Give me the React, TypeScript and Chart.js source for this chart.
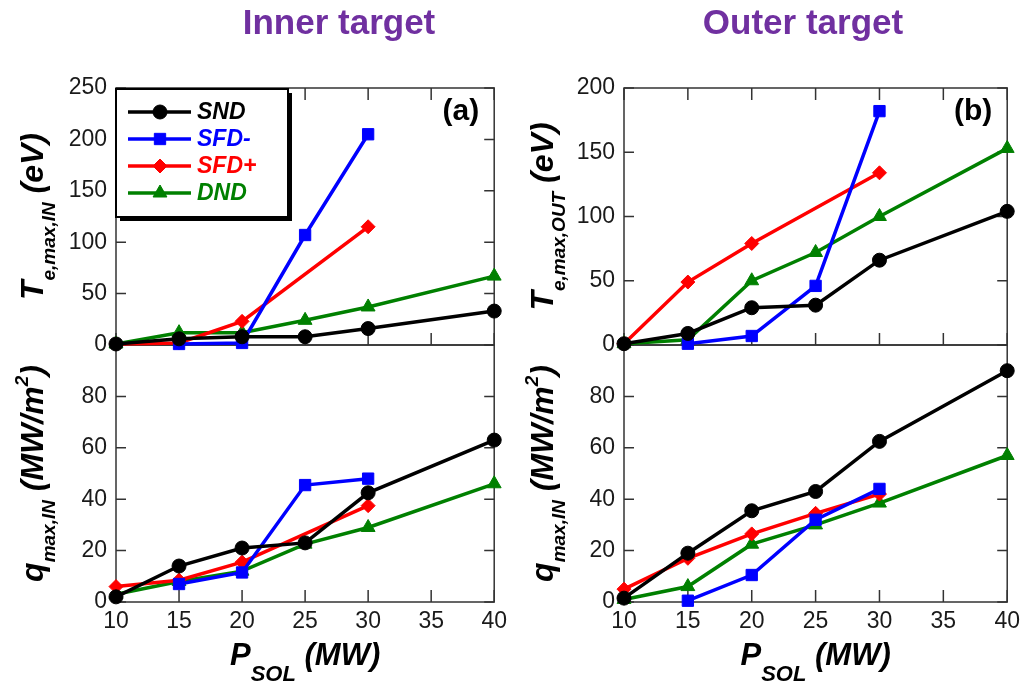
import React, { useEffect, useRef } from 'react';
import { Chart, registerables } from 'chart.js';
import { drawPoint } from 'chart.js/helpers';

Chart.register(...registerables);

const FONT = '"Liberation Sans", Arial, Helvetica, sans-serif';

// ---------- data ----------
const seriesNames = ['SND', 'SFD-', 'SFD+', 'DND'];

// P_SOL (MW) positions of each series
const xSND = [10, 15, 20, 25, 30, 40];
const xDND = [10, 15, 20, 25, 30, 40];
const xSFDminus = [15, 20, 25, 30];
const xSFDplus4 = [10, 15, 20, 30];
const xSFDplus5 = [10, 15, 20, 25, 30];

// Inner target: T_e,max,IN (eV)
const innerTe_SND = [1, 6, 8, 8, 16, 33];
const innerTe_SFDminus = [1, 2, 107, 205];
const innerTe_SFDplus = [1, 2, 23, 115];
const innerTe_DND = [1, 12, 12, 24, 37, 67];

// Inner target: q_max,IN (MW/m^2)
const innerQ_SND = [2, 14, 21, 23, 42.5, 63];
const innerQ_SFDminus = [7, 11.5, 45.5, 48];
const innerQ_SFDplus = [6, 8.5, 15.5, 37.5];
const innerQ_DND = [3, 8, 12, 22.5, 29, 46];

// Outer target: T_e,max,OUT (eV)
const outerTe_SND = [1, 9, 29, 31, 66, 104];
const outerTe_SFDminus = [1, 7, 46, 182];
const outerTe_SFDplus = [1, 49, 79, 134];
const outerTe_DND = [1, 4, 50, 72, 100, 153];

// Outer target: q_max (MW/m^2)
const outerQ_SND = [1.5, 19, 35.5, 43, 62.5, 90];
const outerQ_SFDminus = [0.5, 10.5, 32, 44];
const outerQ_SFDplus = [5, 17, 26.5, 34.5, 42];
const outerQ_DND = [1, 6, 22.5, 30, 38.5, 57];

// ---------- styles ----------
const seriesColors = ['#000000', '#0000ff', '#ff0000', '#008000'];
const seriesMarkers = ['circle', 'rect', 'rectRot', 'triangle'];
const markerRadius = [7, 8, 7, 8];

type Part = { t: string; size: number; dy: number };

function drawRich(ctx: CanvasRenderingContext2D, parts: Part[], cx: number, cy: number, rotate: boolean, color = '#000') {
  ctx.save();
  ctx.translate(cx, cy);
  if (rotate) ctx.rotate(-Math.PI / 2);
  const widths = parts.map((p) => {
    ctx.font = `italic bold ${p.size}px ${FONT}`;
    return ctx.measureText(p.t).width;
  });
  const total = widths.reduce((a, b) => a + b, 0);
  let x = -total / 2;
  ctx.textAlign = 'left';
  ctx.textBaseline = 'alphabetic';
  ctx.fillStyle = color;
  parts.forEach((p, i) => {
    ctx.font = `italic bold ${p.size}px ${FONT}`;
    ctx.fillText(p.t, x, p.dy);
    x += widths[i];
  });
  ctx.restore();
}

type ColProps = {
  left: number;
  width: number;
  height: number;
  yAxisWidth: number;
  padRight: number;
  padTop: number;
  xAxisHeight: number;
  teX: number[][];
  teY: number[][];
  qX: number[][];
  qY: number[][];
  teMax: number;
  teStep: number;
  teLabel: Part[];
  qLabel: Part[];
  labelOffset: number;
  tag: string;
  showLegend: boolean;
};

function ColumnChart(p: ColProps) {
  const ref = useRef<HTMLCanvasElement>(null);
  useEffect(() => {
    if (!ref.current) return;
    const mk = (xs: number[], ys: number[]) => xs.map((x, i) => ({ x, y: ys[i] }));
    const style = (i: number) => ({
      borderColor: seriesColors[i],
      backgroundColor: seriesColors[i],
      borderWidth: 3.5,
      pointStyle: seriesMarkers[i],
      pointRadius: markerRadius[i],
      pointBackgroundColor: seriesColors[i],
      pointBorderColor: seriesColors[i],
      pointBorderWidth: 1,
      tension: 0,
      fill: false,
      clip: false as const,
    });
    const datasets: any[] = [];
    for (let i = 0; i < 4; i++) {
      datasets.push({ label: seriesNames[i], data: mk(p.teX[i], p.teY[i]), yAxisID: 'yTop', ...style(i) });
    }
    for (let i = 0; i < 4; i++) {
      datasets.push({ label: seriesNames[i] + ' q', data: mk(p.qX[i], p.qY[i]), yAxisID: 'yBot', ...style(i) });
    }

    const tickFont = { family: FONT, size: 23 };
    const tickColor = '#1a1a1a';

    const decor = {
      id: 'decor',
      beforeDatasetsDraw(chart: any) {
        const ctx: CanvasRenderingContext2D = chart.ctx;
        const ca = chart.chartArea;
        const xs = chart.scales.x;
        const yTop = chart.scales.yTop;
        const yBot = chart.scales.yBot;
        ctx.save();
        ctx.strokeStyle = '#333';
        ctx.lineWidth = 1.5;
        for (const s of [yTop, yBot]) {
          ctx.strokeRect(ca.left, s.top, ca.right - ca.left, s.bottom - s.top);
          for (const t of s.ticks) {
            const py = s.getPixelForValue(t.value);
            ctx.beginPath();
            ctx.moveTo(ca.left, py);
            ctx.lineTo(ca.left + 10, py);
            ctx.moveTo(ca.right, py);
            ctx.lineTo(ca.right - 10, py);
            ctx.stroke();
          }
        }
        for (const t of xs.ticks) {
          const px = xs.getPixelForValue(t.value);
          ctx.beginPath();
          ctx.moveTo(px, yTop.top);
          ctx.lineTo(px, yTop.top + 12);
          ctx.moveTo(px, yTop.bottom);
          ctx.lineTo(px, yTop.bottom - 12);
          ctx.moveTo(px, yBot.bottom);
          ctx.lineTo(px, yBot.bottom - 12);
          ctx.stroke();
        }
        ctx.restore();
      },
      afterDraw(chart: any) {
        const ctx: CanvasRenderingContext2D = chart.ctx;
        const ca = chart.chartArea;
        const yTop = chart.scales.yTop;
        const yBot = chart.scales.yBot;
        // axis titles
        drawRich(ctx, p.teLabel, ca.left - p.labelOffset, (yTop.top + yTop.bottom) / 2, true);
        drawRich(ctx, p.qLabel, ca.left - p.labelOffset, (yBot.top + yBot.bottom) / 2, true);
        drawRich(
          ctx,
          [
            { t: 'P', size: 31, dy: 0 },
            { t: 'SOL', size: 22, dy: 16 },
            { t: ' (MW)', size: 31, dy: 0 },
          ],
          (ca.left + ca.right) / 2,
          ca.bottom + 63,
          false
        );
        // panel tag
        ctx.save();
        ctx.font = `bold 30px ${FONT}`;
        ctx.fillStyle = '#000';
        ctx.textAlign = 'right';
        ctx.textBaseline = 'alphabetic';
        ctx.fillText(p.tag, ca.right - 15, ca.top + 32);
        ctx.restore();
        // legend
        if (p.showLegend) {
          const lx = ca.left;
          const ly = ca.top + 1;
          const lw = 172;
          const lh = 128;
          ctx.save();
          ctx.fillStyle = '#000';
          ctx.fillRect(lx + 4, ly + 4, lw, lh);
          ctx.fillStyle = '#fff';
          ctx.fillRect(lx, ly, lw, lh);
          ctx.strokeStyle = '#000';
          ctx.lineWidth = 2;
          ctx.strokeRect(lx, ly, lw, lh);
          for (let i = 0; i < 4; i++) {
            const ds = chart.data.datasets[i];
            const y = ly + 23 + 27 * i;
            ctx.strokeStyle = ds.borderColor;
            ctx.lineWidth = 3.5;
            ctx.beginPath();
            ctx.moveTo(lx + 12, y);
            ctx.lineTo(lx + 75, y);
            ctx.stroke();
            ctx.fillStyle = ds.pointBackgroundColor;
            ctx.strokeStyle = ds.pointBorderColor;
            ctx.lineWidth = 1;
            drawPoint(ctx, { pointStyle: ds.pointStyle, radius: ds.pointRadius, borderWidth: 1, rotation: 0 } as any, lx + 44, y);
            ctx.font = `italic bold 23px ${FONT}`;
            ctx.fillStyle = ds.borderColor;
            ctx.textAlign = 'left';
            ctx.textBaseline = 'middle';
            ctx.fillText(ds.label, lx + 81, y + 1);
          }
          ctx.restore();
        }
      },
    };

    const chart = new Chart(ref.current, {
      type: 'line',
      data: { datasets },
      options: {
        responsive: false,
        animation: false,
        devicePixelRatio: 1,
        layout: { padding: { left: 0, top: p.padTop, right: p.padRight, bottom: 0 } },
        plugins: { legend: { display: false }, tooltip: { enabled: false }, title: { display: false } },
        scales: {
          x: {
            type: 'linear',
            position: 'bottom',
            min: 10,
            max: 40,
            ticks: { stepSize: 5, font: tickFont, color: tickColor, padding: 6, maxRotation: 0, autoSkip: false },
            grid: { display: false, drawTicks: false },
            border: { display: false },
            afterFit: (s: any) => {
              s.height = p.xAxisHeight;
            },
          },
          yBot: {
            type: 'linear',
            position: 'left',
            stack: 'col',
            stackWeight: 1,
            weight: 1,
            min: 0,
            max: 100,
            ticks: {
              stepSize: 20,
              font: tickFont,
              color: tickColor,
              padding: 9,
              autoSkip: false,
              callback: (v: any) => (v === 100 ? '' : String(v)),
            },
            grid: { display: false, drawTicks: false },
            border: { display: false },
            afterFit: (s: any) => {
              s.width = p.yAxisWidth;
            },
          },
          yTop: {
            type: 'linear',
            position: 'left',
            stack: 'col',
            stackWeight: 1,
            weight: 2,
            min: 0,
            max: p.teMax,
            ticks: { stepSize: p.teStep, font: tickFont, color: tickColor, padding: 9, autoSkip: false },
            grid: { display: false, drawTicks: false },
            border: { display: false },
            afterFit: (s: any) => {
              s.width = p.yAxisWidth;
            },
          },
        } as any,
      },
      plugins: [decor as any],
    });
    return () => chart.destroy();
  }, []);
  return (
    <canvas
      ref={ref}
      width={p.width}
      height={p.height}
      style={{ position: 'absolute', left: p.left, top: 0, width: p.width, height: p.height }}
    />
  );
}

const teInLabel: Part[] = [
  { t: 'T', size: 32, dy: 0 },
  { t: 'e,max,IN', size: 19, dy: 12 },
  { t: ' (eV)', size: 32, dy: 0 },
];
const teOutLabel: Part[] = [
  { t: 'T', size: 32, dy: 0 },
  { t: 'e,max,OUT', size: 19, dy: 12 },
  { t: ' (eV)', size: 32, dy: 0 },
];
const qLabel: Part[] = [
  { t: 'q', size: 32, dy: 0 },
  { t: 'max,IN', size: 19, dy: 12 },
  { t: ' (MW/m', size: 32, dy: 0 },
  { t: '2', size: 19, dy: -15 },
  { t: ')', size: 32, dy: 0 },
];

const titleStyle: React.CSSProperties = {
  position: 'absolute',
  top: 0,
  width: 400,
  textAlign: 'center',
  fontFamily: FONT,
  fontWeight: 'bold',
  fontSize: 35,
  lineHeight: '44px',
  color: '#7030a0',
  whiteSpace: 'nowrap',
};

export default function App() {
  return (
    <div style={{ position: 'absolute', left: 0, top: 0, width: 1026, height: 687, background: '#fff', overflow: 'hidden' }}>
      <ColumnChart
        left={0}
        width={513}
        height={687}
        yAxisWidth={116}
        padRight={13}
        padTop={88}
        xAxisHeight={85}
        teX={[xSND, xSFDminus, xSFDplus4, xDND]}
        teY={[innerTe_SND, innerTe_SFDminus, innerTe_SFDplus, innerTe_DND]}
        qX={[xSND, xSFDminus, xSFDplus4, xDND]}
        qY={[innerQ_SND, innerQ_SFDminus, innerQ_SFDplus, innerQ_DND]}
        teMax={250}
        teStep={50}
        teLabel={teInLabel}
        qLabel={qLabel}
        labelOffset={73}
        tag="(a)"
        showLegend={true}
      />
      <ColumnChart
        left={513}
        width={513}
        height={687}
        yAxisWidth={111}
        padRight={17}
        padTop={88}
        xAxisHeight={85}
        teX={[xSND, xSFDminus, xSFDplus4, xDND]}
        teY={[outerTe_SND, outerTe_SFDminus, outerTe_SFDplus, outerTe_DND]}
        qX={[xSND, xSFDminus, xSFDplus5, xDND]}
        qY={[outerQ_SND, outerQ_SFDminus, outerQ_SFDplus, outerQ_DND]}
        teMax={200}
        teStep={50}
        teLabel={teOutLabel}
        qLabel={qLabel}
        labelOffset={71}
        tag="(b)"
        showLegend={false}
      />
      <div style={{ ...titleStyle, left: 339 - 200 }}>Inner target</div>
      <div style={{ ...titleStyle, left: 803 - 200 }}>Outer target</div>
    </div>
  );
}
